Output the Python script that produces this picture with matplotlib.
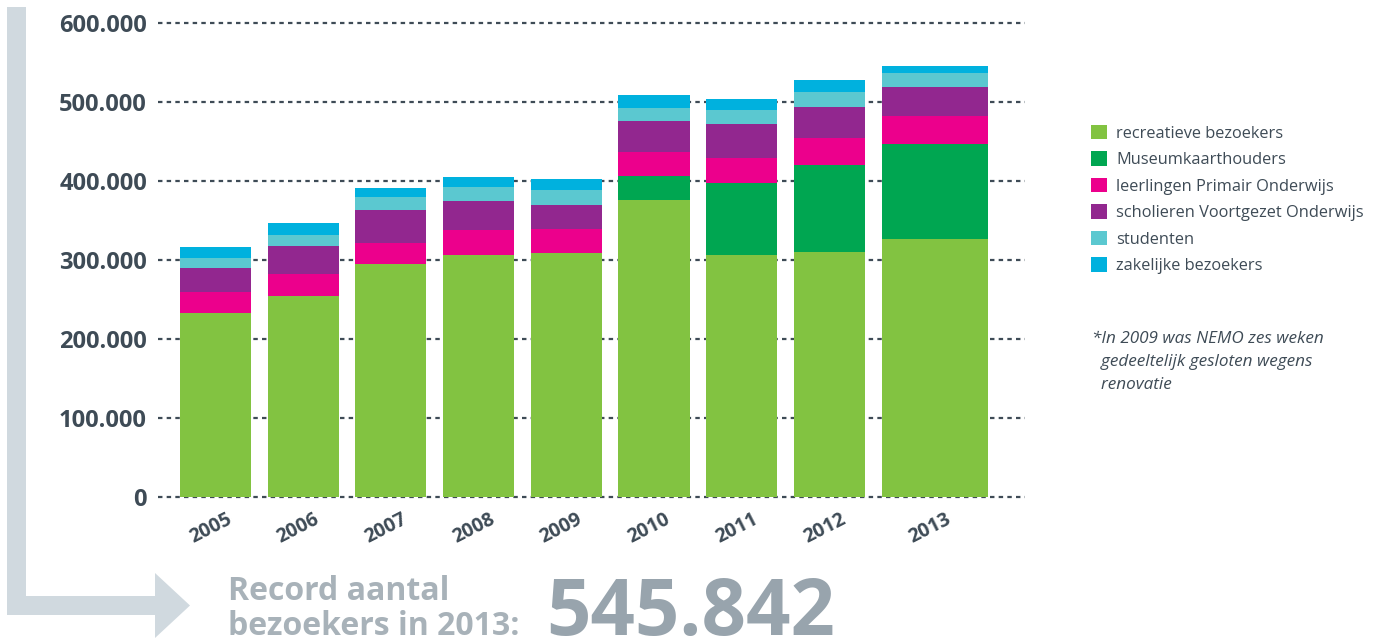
import numpy as np
import matplotlib
matplotlib.use("Agg")
import matplotlib.pyplot as plt
from matplotlib.patches import Polygon, Patch
import matplotlib.transforms as mtransforms

# data (visitors per year, stacked)
jaren = ['2005', '2006', '2007', '2008', '2009', '2010', '2011', '2012', '2013']
recreatief = [232700, 254200, 294700, 306000, 309000, 375800, 306000, 310000, 326400]
museumkaart = [0, 0, 0, 0, 0, 30200, 91000, 109800, 120300]
primair = [27000, 28300, 26300, 31600, 30000, 30500, 32000, 34600, 35300]
voortgezet = [29900, 35000, 42000, 36400, 30500, 39300, 43000, 39200, 36900]
studenten = [12700, 14000, 16500, 18000, 18500, 16500, 17800, 19000, 17700]
zakelijk = [13700, 15200, 11500, 12700, 14000, 16500, 13900, 15200, 9242]

labels = ['recreatieve bezoekers', 'Museumkaarthouders', 'leerlingen Primair Onderwijs',
          'scholieren Voortgezet Onderwijs', 'studenten', 'zakelijke bezoekers']
kleuren = ['#82c341', '#00a651', '#ec008c', '#92278f', '#5bc8d0', '#00b1de']
yticks = [0, 100000, 200000, 300000, 400000, 500000, 600000]
ytick_labels = ['0', '100.000', '200.000', '300.000', '400.000', '500.000', '600.000']
totaal_tekst = '545.842'

W, H = 1382, 643
fig = plt.figure(figsize=(W / 100, H / 100), dpi=100)
ax = fig.add_axes([158 / W, 1 - 496.7 / H, (1025 - 158) / W, (496.7 - 23) / H])

donker = '#3e4b56'
font = 'Open Sans'

x = np.arange(len(jaren))
breedte = np.array([0.81] * 8 + [1.21])
series = [recreatief, museumkaart, primair, voortgezet, studenten, zakelijk]
bottom = np.zeros(len(jaren))
for s, kl in zip(series, kleuren):
    ax.bar(x, s, width=breedte, bottom=bottom, align='edge', color=kl, zorder=3, linewidth=0)
    bottom += np.array(s)

ax.set_xlim(-0.25, 9.635)
ax.set_ylim(0, 600000)
for s in ax.spines.values():
    s.set_visible(False)

for yv in yticks:
    ax.axhline(yv, color=donker, lw=1.6, ls=(0, (2.0, 1.9)), zorder=1, clip_on=False)

ax.set_yticks(yticks)
ax.set_yticklabels(ytick_labels, fontsize=17, fontweight='bold', color=donker, family=font)
ax.tick_params(axis='y', length=0, pad=8)

ax.set_xticks(x + breedte / 2)
ax.set_xticklabels(jaren, fontsize=14, fontweight='bold', color=donker, family=font,
                   rotation=27, ha='center')
ax.tick_params(axis='x', length=0, pad=9)
offset = mtransforms.ScaledTranslation(-5 / 100, 0, fig.dpi_scale_trans)
for lbl in ax.get_xticklabels():
    lbl.set_transform(lbl.get_transform() + offset)

handles = [Patch(facecolor=k, edgecolor='none') for k in kleuren]
leg = fig.legend(handles, labels, loc='upper left', bbox_to_anchor=(1076 / W, 1 - 110 / H),
                 frameon=False, handlelength=1.0, handleheight=1.0, handletextpad=0.55,
                 labelspacing=0.58, prop={'family': font, 'size': 11.8})
for t in leg.get_texts():
    t.set_color(donker)

fig.text(1092 / W, 1 - 331 / H,
         '*In 2009 was NEMO zes weken\n  gedeeltelijk gesloten wegens\n  renovatie',
         fontsize=12.3, style='italic', color=donker, family=font, va='top', linespacing=1.6)

# L-shaped arrow on the left
pijl_px = [(7, 7), (26, 7), (26, 596), (155, 596), (155, 573), (190, 605.5),
           (155, 638), (155, 615), (7, 615)]
pijl = Polygon([(px / W, 1 - py / H) for px, py in pijl_px], closed=True,
               facecolor='#d0d9df', edgecolor='none', transform=fig.transFigure)
fig.add_artist(pijl)

fig.text(228 / W, 1 - 600 / H, 'Record aantal', fontsize=23, fontweight='bold',
         color='#a8b2b9', family=font, va='baseline')
fig.text(228 / W, 1 - 635 / H, 'bezoekers in 2013:', fontsize=23, fontweight='bold',
         color='#a8b2b9', family=font, va='baseline')
fig.text(546 / W, 1 - 635 / H, totaal_tekst, fontsize=56, fontweight='bold',
         color='#98a4ad', family=font, va='baseline')

fig.savefig('out.png', dpi=100)
